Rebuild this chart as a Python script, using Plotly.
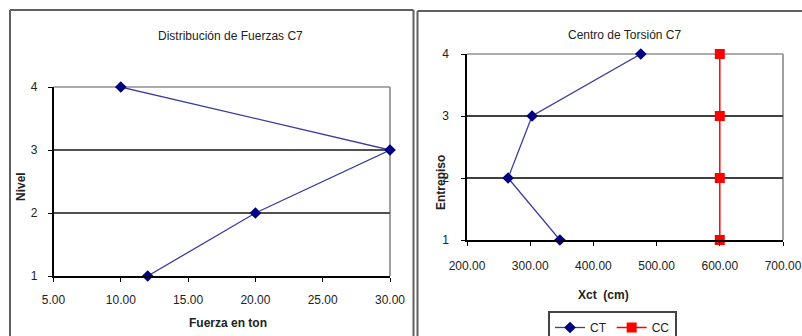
import plotly.graph_objects as go

# Force distribution per level (C7)
fuerza_ton = [12.0, 20.0, 30.0, 10.0]
nivel = [1, 2, 3, 4]

# Torsion centre (CT) and centre of mass/rigidity (CC) per storey
entrepiso = [1, 2, 3, 4]
xct_cm = [347.0, 265.0, 303.0, 475.0]
xcc_cm = [600.0, 600.0, 600.0, 600.0]

W, H = 802, 336
FONT = "Liberation Sans, Arial, sans-serif"
NAVY_LINE = "#3c3ca0"
NAVY_MARK = "#000080"
RED = "#ff0000"


def px_x(p):
    return p / W


def px_y(p):
    return (H - p) / H


fig = go.Figure()

fig.add_trace(go.Scatter(
    x=fuerza_ton, y=nivel, mode="lines+markers", cliponaxis=False,
    line=dict(color=NAVY_LINE, width=1.3),
    marker=dict(symbol="diamond", size=9, color=NAVY_MARK),
    xaxis="x", yaxis="y", showlegend=False, name="Fuerza",
))
fig.add_trace(go.Scatter(
    x=xct_cm, y=entrepiso, mode="lines+markers", cliponaxis=False,
    line=dict(color=NAVY_LINE, width=1.3),
    marker=dict(symbol="diamond", size=9, color=NAVY_MARK),
    xaxis="x2", yaxis="y2", name="CT",
))
fig.add_trace(go.Scatter(
    x=xcc_cm, y=entrepiso, mode="lines+markers", cliponaxis=False,
    line=dict(color=RED, width=1.5),
    marker=dict(symbol="square", size=10, color=RED),
    xaxis="x2", yaxis="y2", name="CC",
))

axis_common = dict(
    showline=True, linecolor="#000000", linewidth=1.5,
    ticks="outside", ticklen=4, tickcolor="#000000", tickwidth=1,
    tickfont=dict(family=FONT, size=12, color="#222222"),
    zeroline=False, automargin=False,
)

L_x0, L_x1, L_yb, L_yt = 53.5, 390, 276, 87
R_x0, R_x1, R_yb, R_yt = 467, 783, 240, 54

fig.update_layout(
    width=W, height=H,
    margin=dict(l=0, r=0, t=0, b=0, autoexpand=False),
    paper_bgcolor="white", plot_bgcolor="white",
    font=dict(family=FONT, size=12, color="#222222"),
    xaxis=dict(domain=[px_x(L_x0), px_x(L_x1)], range=[5, 30], dtick=5,
               tickformat=".2f", showgrid=False, anchor="y",
               ticklabelstandoff=8, **axis_common),
    yaxis=dict(domain=[px_y(L_yb), px_y(L_yt)], range=[1, 4], dtick=1,
               showgrid=True, gridcolor="#505050", gridwidth=1.5, anchor="x",
               ticklabelstandoff=8, **axis_common),
    xaxis2=dict(domain=[px_x(R_x0), px_x(R_x1)], range=[200, 700], dtick=100,
                tickformat=".2f", showgrid=False, anchor="y2",
                ticklabelstandoff=10, **axis_common),
    yaxis2=dict(domain=[px_y(R_yb), px_y(R_yt)], range=[1, 4], dtick=1,
                showgrid=True, gridcolor="#404040", gridwidth=1.5, anchor="x2",
                ticklabelstandoff=10, **axis_common),
    legend=dict(
        orientation="h", x=px_x(548), y=px_y(311), xanchor="left", yanchor="top",
        bordercolor="#444444", borderwidth=2, bgcolor="white",
        font=dict(family=FONT, size=12, color="#222222"),
        itemwidth=30, tracegroupgap=0,
    ),
)

# Plot-area frames (light grey on the open sides)
shapes = []
for (x0, x1, yb, yt) in [(L_x0, L_x1, L_yb, L_yt), (R_x0, R_x1, R_yb, R_yt)]:
    shapes.append(dict(type="line", xref="paper", yref="paper", layer="below",
                       x0=px_x(x1), x1=px_x(x1), y0=px_y(yb), y1=px_y(yt),
                       line=dict(color="#a0a0a0", width=2)))
    shapes.append(dict(type="line", xref="paper", yref="paper", layer="below",
                       x0=px_x(x0), x1=px_x(x1), y0=px_y(yt), y1=px_y(yt),
                       line=dict(color="#909090", width=1.5)))

# Chart-area borders
border = dict(color="#606060", width=2)
shapes += [
    dict(type="line", xref="paper", yref="paper", x0=px_x(10), x1=px_x(10), y0=0, y1=px_y(10), line=border),
    dict(type="line", xref="paper", yref="paper", x0=px_x(10), x1=px_x(413.5), y0=px_y(10), y1=px_y(10), line=border),
    dict(type="line", xref="paper", yref="paper", x0=px_x(413.5), x1=px_x(413.5), y0=0, y1=px_y(10), line=border),
    dict(type="line", xref="paper", yref="paper", x0=px_x(417.5), x1=px_x(417.5), y0=0, y1=px_y(11), line=border),
    dict(type="line", xref="paper", yref="paper", x0=px_x(417.5), x1=1, y0=px_y(11), y1=px_y(11), line=border),
]
fig.update_layout(shapes=shapes)

ann = []


def label(text, x, y, size=12, bold=False, angle=0):
    ann.append(dict(
        text=f"<b>{text}</b>" if bold else text,
        x=px_x(x), y=px_y(y), xref="paper", yref="paper",
        xanchor="center", yanchor="middle", showarrow=False, textangle=angle,
        font=dict(family=FONT, size=size, color="#222222"),
    ))


label("Distribución de Fuerzas C7", 230, 36)
label("Centro de Torsión C7", 625, 35)
label("Fuerza en ton", 228, 323, bold=True)
label("Nivel", 21, 187, bold=True, angle=-90)
label("Xct  (cm)", 603, 295, bold=True)
label("Entrepiso", 441, 183, bold=True, angle=-90)
fig.update_layout(annotations=ann)

fig.write_html("out.html")
